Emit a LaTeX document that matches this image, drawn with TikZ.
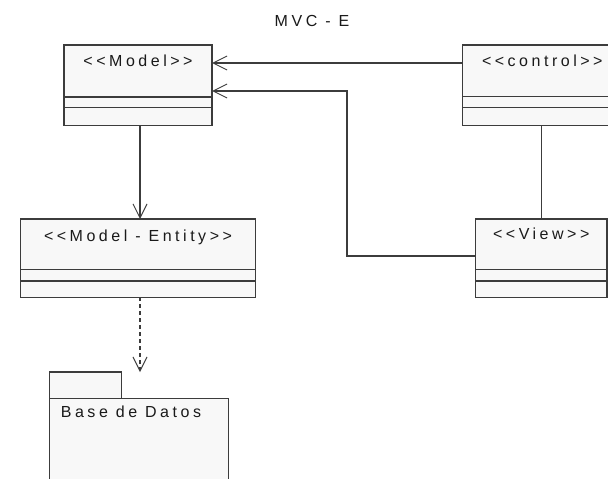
\documentclass[tikz,border=0pt]{standalone}
\usepackage{fontspec}
\newfontfamily\umlfont{Liberation Sans}[LetterSpace=22]
\usetikzlibrary{arrows.meta}
\definecolor{ln}{HTML}{3C3C3C}
\definecolor{bx}{HTML}{F8F8F8}
\definecolor{tx}{HTML}{1A1A1A}
\begin{document}
\begin{tikzpicture}[x=1pt,y=-1pt,
  cls/.style={draw=ln, fill=bx, line width=1.3pt, anchor=north west, inner sep=0pt, outer sep=0pt},
  lbl/.style={font=\umlfont\fontsize{16}{19}\selectfont, text=tx, anchor=base, inner sep=0pt},
  conn/.style={draw=ln, line width=1.3pt},
  divline/.style={draw=ln, line width=1.3pt},
  openhead/.style={-{Straight Barb[length=14pt,width=14pt,line width=1pt]}},
  dashline/.style={dash pattern=on 4pt off 3pt}
]
\useasboundingbox (0,0) rectangle (608,479);
\fill[white] (0,0) rectangle (608,479);
\clip (0,0) rectangle (608,479);

% title
\node[lbl] (title) at (312,26.7) {MVC - E};

% classes
\node[cls, minimum width=148pt, minimum height=80.3pt] (model) at (64,45) {};
\node[cls, minimum width=160pt, minimum height=80.3pt] (control) at (462.3,45) {};
\node[cls, minimum width=234.6pt, minimum height=78.3pt] (entity) at (20.7,219) {};
\node[cls, minimum width=131.5pt, minimum height=78.3pt] (view) at (475.5,219) {};

% package
\node[cls, minimum width=72pt, minimum height=26.7pt] (tab) at (49.3,372) {};
\node[cls, minimum width=179.4pt, minimum height=110pt] (pkg) at (49.3,398.7) {};

% compartments
\draw[divline] ([yshift=-52pt]model.north west) -- ([yshift=-52pt]model.north east);
\draw[divline] ([yshift=-62.3pt]model.north west) -- ([yshift=-62.3pt]model.north east);
\draw[divline] ([yshift=-51.7pt]control.north west) -- ([yshift=-51.7pt]control.north east);
\draw[divline] ([yshift=-62.3pt]control.north west) -- ([yshift=-62.3pt]control.north east);
\draw[divline] ([yshift=-50.3pt]entity.north west) -- ([yshift=-50.3pt]entity.north east);
\draw[divline] ([yshift=-62pt]entity.north west) -- ([yshift=-62pt]entity.north east);
\draw[divline] ([yshift=-50.3pt]view.north west) -- ([yshift=-50.3pt]view.north east);
\draw[divline] ([yshift=-62pt]view.north west) -- ([yshift=-62pt]view.north east);

% labels
\node[lbl] (modelt) at ([yshift=-21pt]model.north) {<<Model>>};
\node[lbl] (controlt) at ([yshift=-21pt]control.north) {<<control>>};
\node[lbl] (entityt) at ([yshift=-22pt]entity.north) {<<Model - Entity>>};
\node[lbl] (viewt) at ([yshift=-20.5pt]view.north) {<<View>>};
\node[lbl, anchor=base west] (pkgt) at ([xshift=11.4pt,yshift=-18.5pt]pkg.north west) {Base de Datos};

% connectors
\coordinate (a1) at (0,63);
\coordinate (b1) at (347,256);
\coordinate (b2) at (347,91);
\coordinate (c1) at (140,0);
\coordinate (d1) at (541.7,0);

\draw[conn, openhead] (control.west |- a1) -- (model.east |- a1);
\draw[conn, openhead] (view.west |- b1) -- (b1) -- (b2) -- (model.east |- b2);
\draw[conn] (control.south -| d1) -- (view.north -| d1);
\draw[conn, openhead] (model.south -| c1) -- (entity.north -| c1);
\draw[conn, dashline, openhead] (entity.south -| c1) -- (tab.north -| c1);
\end{tikzpicture}
\end{document}
